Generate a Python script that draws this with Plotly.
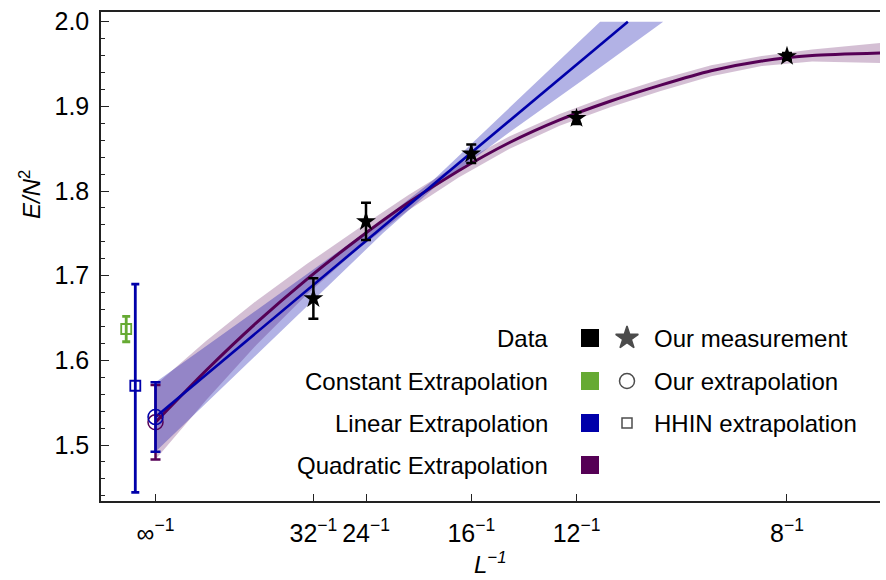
import plotly.graph_objects as go

# ---------------- data ----------------
L_sizes = [32, 24, 16, 12, 8]
energy = [1.673, 1.764, 1.844, 1.886, 1.959]
energy_err = [0.024, 0.022, 0.011, 0.007, 0.004]

# our extrapolations at L -> infinity
lin_extrap = 1.533
lin_extrap_err_plus = 0.041
lin_extrap_err_minus = 0.041
quad_extrap = 1.527
quad_extrap_err_plus = 0.044
quad_extrap_err_minus = 0.044

# HHIN extrapolations (drawn slightly left of 0)
hhin_const_x = -0.0058
hhin_const = 1.637
hhin_const_err = 0.015
hhin_lin_x = -0.0040
hhin_lin = 1.570
hhin_lin_err_plus = 0.120
hhin_lin_err_minus = 0.126

# linear fit
lin_x = [0.0, 0.0935]
lin_y = [1.533, 2.0]
lin_band_lo_x = [0.0, 0.015, 0.03, 0.045, 0.055, 0.07, 0.085, 0.1, 0.1005]
lin_band_lo_y = [1.492, 1.578, 1.664, 1.750, 1.803, 1.869, 1.933, 1.997, 2.0]
lin_band_hi_x = [0.0, 0.015, 0.03, 0.045, 0.055, 0.07, 0.085, 0.088]
lin_band_hi_y = [1.574, 1.638, 1.702, 1.766, 1.813, 1.897, 1.983, 2.0]

# quadratic fit
quad_x = [0.0, 0.01, 0.02, 0.03, 0.04, 0.05, 0.06, 0.07, 0.08, 0.09, 0.10, 0.11, 0.12, 0.13, 0.144]
quad_y = [1.527, 1.588, 1.6445, 1.696, 1.743, 1.786, 1.824, 1.857, 1.884, 1.906, 1.925,
          1.942, 1.9535, 1.960, 1.963]
quad_lo = [1.483, 1.553, 1.6185, 1.678, 1.731, 1.777, 1.816, 1.8495, 1.877, 1.899, 1.918,
           1.9355, 1.9475, 1.953, 1.951]
quad_hi = [1.571, 1.623, 1.6705, 1.714, 1.755, 1.795, 1.832, 1.8645, 1.891, 1.913, 1.932,
           1.9485, 1.9595, 1.967, 1.975]

tick_vals = [0.0, 1/32, 1/24, 1/16, 1/12, 1/8]
tick_text = ["∞<sup>−1</sup>", "32<sup>−1</sup>", "24<sup>−1</sup>",
             "16<sup>−1</sup>", "12<sup>−1</sup>", "8<sup>−1</sup>"]

legend_left = ["Data", "Constant Extrapolation", "Linear Extrapolation", "Quadratic Extrapolation"]
legend_right = ["Our measurement", "Our extrapolation", "HHIN extrapolation"]

# ---------------- styles ----------------
BLACK = "black"
GREEN = "rgb(102,170,51)"
BLUE = "rgb(0,0,170)"
PURPLE = "rgb(85,0,85)"
BLUE_FILL = "rgba(0,0,170,0.30)"
PURPLE_FILL = "rgba(85,0,85,0.25)"
FONT = "Liberation Sans, Arial, Helvetica, sans-serif"

W, H = 886, 580
ML, MR, MT, MB = 101, 6, 12, 79
PW, PH = W - ML - MR, H - MT - MB


def px(xp):
    return (xp - ML) / PW


def py(yp):
    return (H - MB - yp) / PH


fig = go.Figure()

# quadratic band
fig.add_trace(go.Scatter(
    x=quad_x + quad_x[::-1], y=quad_hi + quad_lo[::-1],
    fill="toself", fillcolor=PURPLE_FILL, line=dict(width=0),
    mode="lines", hoverinfo="skip", showlegend=False))
# linear band
fig.add_trace(go.Scatter(
    x=lin_band_lo_x + lin_band_hi_x[::-1], y=lin_band_lo_y + lin_band_hi_y[::-1],
    fill="toself", fillcolor=BLUE_FILL, line=dict(width=0),
    mode="lines", hoverinfo="skip", showlegend=False))
# quadratic line
fig.add_trace(go.Scatter(x=quad_x, y=quad_y, mode="lines",
                         line=dict(color=PURPLE, width=3, shape="spline", smoothing=0.6),
                         showlegend=False))
# linear line
fig.add_trace(go.Scatter(x=lin_x, y=lin_y, mode="lines",
                         line=dict(color=BLUE, width=2.6), showlegend=False))

# our extrapolations
fig.add_trace(go.Scatter(
    x=[0.0], y=[quad_extrap], mode="markers",
    marker=dict(symbol="circle-open", size=15, color=PURPLE, line=dict(width=1.5, color=PURPLE)),
    error_y=dict(type="data", symmetric=False, array=[quad_extrap_err_plus],
                 arrayminus=[quad_extrap_err_minus], color=PURPLE, thickness=2.5, width=5),
    showlegend=False))
fig.add_trace(go.Scatter(
    x=[0.0], y=[lin_extrap], mode="markers",
    marker=dict(symbol="circle-open", size=15, color=BLUE, line=dict(width=1.5, color=BLUE)),
    error_y=dict(type="data", symmetric=False, array=[lin_extrap_err_plus],
                 arrayminus=[lin_extrap_err_minus], color=BLUE, thickness=2.5, width=5),
    showlegend=False))

# HHIN
fig.add_trace(go.Scatter(
    x=[hhin_const_x], y=[hhin_const], mode="markers",
    marker=dict(symbol="square-open", size=10, color=GREEN, line=dict(width=1.8, color=GREEN)),
    error_y=dict(type="data", array=[hhin_const_err], color=GREEN, thickness=2.8, width=4),
    showlegend=False))
fig.add_trace(go.Scatter(
    x=[hhin_lin_x], y=[hhin_lin], mode="markers",
    marker=dict(symbol="square-open", size=10, color=BLUE, line=dict(width=1.8, color=BLUE)),
    error_y=dict(type="data", symmetric=False, array=[hhin_lin_err_plus],
                 arrayminus=[hhin_lin_err_minus], color=BLUE, thickness=2.8, width=4),
    showlegend=False))

# data
fig.add_trace(go.Scatter(
    x=[1 / L for L in L_sizes], y=energy, mode="markers",
    marker=dict(symbol="star", size=15, color=BLACK, line=dict(width=0)),
    error_y=dict(type="data", array=energy_err, color=BLACK, thickness=2.5, width=5),
    showlegend=False))

# ---------------- custom legend ----------------
row_y = [338, 381, 423, 465]
sq_colors = [BLACK, GREEN, BLUE, PURPLE]
for i, lab in enumerate(legend_left):
    fig.add_annotation(x=px(550), y=py(row_y[i]), xref="paper", yref="paper",
                       text=lab, showarrow=False, xanchor="right", yanchor="middle",
                       font=dict(family=FONT, size=24, color="black"))
    fig.add_shape(type="rect", xref="paper", yref="paper",
                  x0=px(581), x1=px(599), y0=py(row_y[i] - 9), y1=py(row_y[i] + 9),
                  fillcolor=sq_colors[i], line=dict(width=0))
for i, lab in enumerate(legend_right):
    fig.add_annotation(x=px(652), y=py(row_y[i]), xref="paper", yref="paper",
                       text=lab, showarrow=False, xanchor="left", yanchor="middle",
                       font=dict(family=FONT, size=24, color="black"))

leg_symbols = ["star", "circle-open", "square-open"]
leg_sizes = [17, 15, 10]
fig.add_trace(go.Scatter(
    x=[px(627)] * 3, y=[py(r) for r in row_y[:3]], xaxis="x2", yaxis="y2",
    mode="markers",
    marker=dict(symbol=leg_symbols, size=leg_sizes, color="black", line=dict(width=1.5, color="black")),
    hoverinfo="skip", showlegend=False))

# axis titles
fig.add_annotation(x=px(30), y=py(195), xref="paper", yref="paper",
                   text="<i>E/N</i><sup>2</sup>", textangle=-90, showarrow=False,
                   xanchor="center", yanchor="middle",
                   font=dict(family=FONT, size=24, color="black"))
fig.add_annotation(x=px(490), y=py(563), xref="paper", yref="paper",
                   text="<i>L<sup>−1</sup></i>", showarrow=False,
                   xanchor="center", yanchor="middle",
                   font=dict(family=FONT, size=24, color="black"))

AX = "#222222"
fig.update_layout(
    width=W, height=H,
    margin=dict(l=ML, r=MR, t=MT, b=MB),
    paper_bgcolor="white", plot_bgcolor="white",
    font=dict(family=FONT, size=24, color="black"),
    showlegend=False,
    xaxis=dict(range=[-0.01079, 0.14341], tickvals=tick_vals, ticktext=tick_text,
               ticks="inside", ticklen=7, tickwidth=1.3, tickcolor=AX,
               showline=True, linecolor=AX, linewidth=1.5, mirror=True,
               showgrid=False, zeroline=False, ticklabelstandoff=9,
               tickfont=dict(family=FONT, size=25, color="black")),
    yaxis=dict(range=[1.4339, 2.0114], tick0=0, dtick=0.1, tickformat=".1f",
               ticks="inside", ticklen=8, tickwidth=1.3, tickcolor=AX,
               minor=dict(dtick=0.02, ticks="inside", ticklen=4, tickwidth=1.2, tickcolor=AX),
               showline=True, linecolor=AX, linewidth=1.5, mirror=False,
               showgrid=False, zeroline=False, ticklabelstandoff=5,
               tickfont=dict(family=FONT, size=25, color="black")),
    xaxis2=dict(overlaying="x", range=[0, 1], visible=False, anchor="y2"),
    yaxis2=dict(overlaying="y", range=[0, 1], visible=False, anchor="x2"),
)

fig.write_html("out.html")
